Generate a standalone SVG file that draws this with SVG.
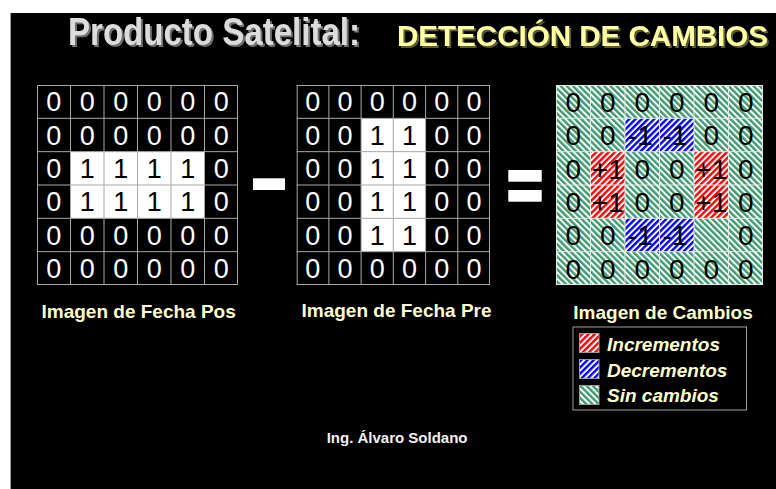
<svg xmlns="http://www.w3.org/2000/svg" width="776" height="489" viewBox="0 0 776 489">
<defs>
<pattern id="hG" width="4.4" height="4.4" patternUnits="userSpaceOnUse" patternTransform="rotate(-45)">
<rect width="4.4" height="4.4" fill="#ffffff"/><rect width="2.4" height="4.4" fill="#3c9a6e"/>
</pattern>
<pattern id="hR" width="4.4" height="4.4" patternUnits="userSpaceOnUse" patternTransform="rotate(45)">
<rect width="4.4" height="4.4" fill="#ffffff"/><rect width="2.4" height="4.4" fill="#ff0000"/>
</pattern>
<pattern id="hB" width="4.4" height="4.4" patternUnits="userSpaceOnUse" patternTransform="rotate(45)">
<rect width="4.4" height="4.4" fill="#ffffff"/><rect width="2.4" height="4.4" fill="#0000ff"/>
</pattern>
<filter id="shG" x="-5%" y="-20%" width="110%" height="150%">
<feOffset in="SourceAlpha" dx="2" dy="2" result="o"/>
<feFlood flood-color="#707070"/><feComposite in2="o" operator="in" result="s"/>
<feMerge><feMergeNode in="s"/><feMergeNode in="SourceGraphic"/></feMerge>
</filter>
<filter id="shY" x="-5%" y="-20%" width="110%" height="150%">
<feOffset in="SourceAlpha" dx="2" dy="2" result="o"/>
<feFlood flood-color="#5a5a30"/><feComposite in2="o" operator="in" result="s"/>
<feMerge><feMergeNode in="s"/><feMergeNode in="SourceGraphic"/></feMerge>
</filter>
</defs>
<style>
.d{font-family:"Liberation Sans",Arial,sans-serif;font-size:27px;fill:#ffffff;text-anchor:middle}
.k{fill:#000000}
.r{font-family:"Liberation Sans",Arial,sans-serif;font-size:28px;fill:#000000;text-anchor:middle}
.gl{stroke:#a8a8a8;stroke-width:1;fill:none}
.gw{stroke:#e6e6e6;stroke-width:1;fill:none}
.lab{font-family:"Liberation Sans",Arial,sans-serif;font-size:19px;font-weight:bold;fill:#ffffcc}
.leg{font-family:"Liberation Sans",Arial,sans-serif;font-size:19px;font-weight:bold;font-style:italic;fill:#ffffcc}
.sw{stroke:#9a9a9a;stroke-width:1}
.tt{font-family:"Liberation Sans",Arial,sans-serif;font-weight:bold}
</style>
<rect x="0" y="0" width="776" height="489" fill="#ffffff"/>
<rect x="10" y="13" width="766" height="476" fill="#000000"/>
<line x1="10.5" y1="13" x2="10.5" y2="489" stroke="#9a9a9a" stroke-width="1"/>

<g id="title">
<text class="tt" x="68" y="45" font-size="38" fill="#dcdcdc" filter="url(#shG)" textLength="292" lengthAdjust="spacingAndGlyphs">Producto Satelital:</text>
<text class="tt" x="397" y="46" font-size="30" fill="#ffffa6" filter="url(#shY)" textLength="371" lengthAdjust="spacingAndGlyphs">DETECCIÓN DE CAMBIOS</text>
</g>

<g id="grid-pos">
<rect x="70.5" y="151.67" width="134" height="66.66" fill="#ffffff"/>
<path class="gl" d="M37 85.5H238M37 118.33H238M37 151.67H238M37 185H238M37 218.33H238M37 251.67H238M37 284.5H238M37.5 85V285M70.5 85V285M104 85V285M137.5 85V285M171 85V285M204.5 85V285M237.5 85V285"/>
<text class="d" y="111.3" x="53.75 87.25 120.75 154.25 187.75 221.25">000000</text>
<text class="d" y="144.6" x="53.75 87.25 120.75 154.25 187.75 221.25">000000</text>
<text class="d" y="177.9"><tspan x="53.75">0</tspan><tspan class="k" x="87.25 120.75 154.25 187.75">1111</tspan><tspan x="221.25">0</tspan></text>
<text class="d" y="211.3"><tspan x="53.75">0</tspan><tspan class="k" x="87.25 120.75 154.25 187.75">1111</tspan><tspan x="221.25">0</tspan></text>
<text class="d" y="244.6" x="53.75 87.25 120.75 154.25 187.75 221.25">000000</text>
<text class="d" y="277.9" x="53.75 87.25 120.75 154.25 187.75 221.25">000000</text>
</g>

<g id="grid-pre">
<rect x="361.1" y="118.33" width="64.5" height="133.34" fill="#ffffff"/>
<path class="gl" d="M296.7 85.5H490M296.7 118.33H490M296.7 151.67H490M296.7 185H490M296.7 218.33H490M296.7 251.67H490M296.7 284.5H490M297.2 85V285M328.9 85V285M361.1 85V285M393.3 85V285M425.6 85V285M457.8 85V285M489.5 85V285"/>
<text class="d" y="111.3" x="312.8 345 377.2 409.5 441.7 473.9">000000</text>
<text class="d" y="144.6"><tspan x="312.8 345">00</tspan><tspan class="k" x="377.2 409.5">11</tspan><tspan x="441.7 473.9">00</tspan></text>
<text class="d" y="177.9"><tspan x="312.8 345">00</tspan><tspan class="k" x="377.2 409.5">11</tspan><tspan x="441.7 473.9">00</tspan></text>
<text class="d" y="211.3"><tspan x="312.8 345">00</tspan><tspan class="k" x="377.2 409.5">11</tspan><tspan x="441.7 473.9">00</tspan></text>
<text class="d" y="244.6"><tspan x="312.8 345">00</tspan><tspan class="k" x="377.2 409.5">11</tspan><tspan x="441.7 473.9">00</tspan></text>
<text class="d" y="277.9" x="312.8 345 377.2 409.5 441.7 473.9">000000</text>
</g>

<g id="operators">
<rect x="253" y="178.3" width="32" height="11.7" fill="#ffffff"/>
<rect x="508.3" y="170" width="33.4" height="11.7" fill="#ffffff"/>
<rect x="508.3" y="190" width="33.4" height="11.7" fill="#ffffff"/>
</g>

<g id="grid-cambios">
<rect x="556" y="85" width="207" height="200" fill="url(#hG)"/>
<rect x="625" y="118.33" width="69" height="33.34" fill="url(#hB)"/>
<rect x="625" y="218.33" width="69" height="33.34" fill="url(#hB)"/>
<rect x="590.5" y="151.67" width="34.5" height="66.66" fill="url(#hR)"/>
<rect x="694" y="151.67" width="34.5" height="66.66" fill="url(#hR)"/>
<path class="gw" d="M556 85.5H763M556 118.33H763M556 151.67H763M556 185H763M556 218.33H763M556 251.67H763M556 284.5H763M556.5 85V285M590.5 85V285M625 85V285M659.5 85V285M694 85V285M728.5 85V285M762.5 85V285"/>
<text class="r" y="112" x="573.25 607.75 642.25 676.75 711.25 745.75">000000</text>
<text class="r" y="145.3" x="573.25 607.75">00</text>
<text class="r" y="145.3" x="640.5">-1</text>
<text class="r" y="145.3" x="675">-1</text>
<text class="r" y="145.3" x="711.25 745.75">00</text>
<text class="r" y="178.6" x="573.25">0</text>
<text class="r" y="178.6" x="607.75">+1</text>
<text class="r" y="178.6" x="642.25 676.75">00</text>
<text class="r" y="178.6" x="711.25">+1</text>
<text class="r" y="178.6" x="745.75">0</text>
<text class="r" y="212" x="573.25">0</text>
<text class="r" y="212" x="607.75">+1</text>
<text class="r" y="212" x="642.25 676.75">00</text>
<text class="r" y="212" x="711.25">+1</text>
<text class="r" y="212" x="745.75">0</text>
<text class="r" y="245.3" x="573.25 607.75">00</text>
<text class="r" y="245.3" x="640.5">-1</text>
<text class="r" y="245.3" x="675">-1</text>
<text class="r" y="245.3" x="745.75">0</text>
<text class="r" y="278.6" x="573.25 607.75 642.25 676.75 711.25 745.75">000000</text>
</g>

<g id="labels">
<text class="lab" x="41.5" y="318.3">Imagen de Fecha Pos</text>
<text class="lab" x="301.5" y="316.7">Imagen de Fecha Pre</text>
<text class="lab" x="573.3" y="319">Imagen de Cambios</text>
</g>

<g id="legend">
<rect x="573" y="327" width="173.5" height="83" fill="#000000" stroke="#a0a0a0" stroke-width="1"/>
<rect class="sw" x="579.5" y="333.5" width="19.5" height="19" fill="url(#hR)"/>
<rect class="sw" x="579.5" y="359.5" width="19.5" height="19" fill="url(#hB)"/>
<rect class="sw" x="579.5" y="385.5" width="19.5" height="19" fill="url(#hG)"/>
<text class="leg" x="607" y="350.5">Incrementos</text>
<text class="leg" x="607" y="376.5">Decrementos</text>
<text class="leg" x="607" y="402">Sin cambios</text>
</g>

<g id="footer">
<text x="326.7" y="442.7" font-family="'Liberation Sans',Arial,sans-serif" font-size="15" font-weight="bold" fill="#f2f2f2">Ing. Álvaro Soldano</text>
</g>
<g id="connectors"/>
</svg>
